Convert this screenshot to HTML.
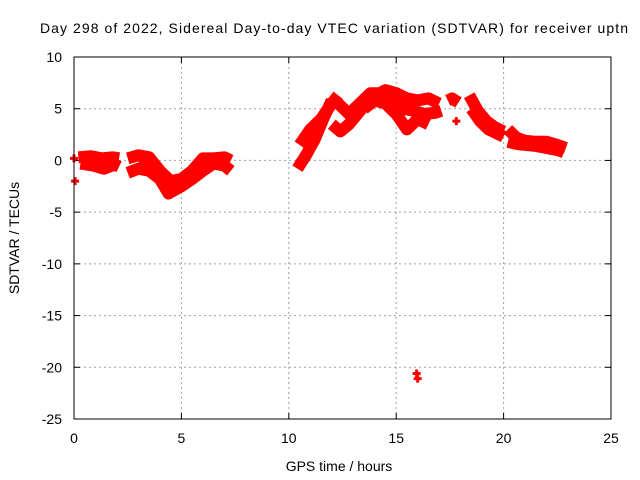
<!DOCTYPE html>
<html><head><meta charset="utf-8"><style>
body{margin:0;background:#fff}
svg{display:block;font-family:"Liberation Sans",sans-serif}
</style></head><body>
<svg id="c" width="640" height="480" viewBox="0 0 640 480">
<rect width="640" height="480" fill="#fff"/>
<text x="40" y="33" font-size="14" textLength="588">Day 298 of 2022, Sidereal Day-to-day VTEC variation (SDTVAR) for receiver uptn</text>
<text x="339" y="471" font-size="14" text-anchor="middle">GPS time / hours</text>
<text x="19" y="238" font-size="14" text-anchor="middle" transform="rotate(-90 19 238)">SDTVAR / TECUs</text>
<g id="grid"></g>
<g id="ticks"></g>
<g id="marks"></g>
<rect x="74" y="57" width="537" height="362" fill="none" stroke="#000"/>
</svg>
<script>
const xTicks=[0,5,10,15,20,25];
const yTicks=[10,5,0,-5,-10,-15,-20,-25];
const trackHours=[
 [0.2,0.8,1.3,1.8,2.1],
 [0.3,0.9,1.4,1.9,2.1],
 [2.5,3.0,3.5,4.0,4.5,5.0,5.5,6.0,6.5,7.0,7.3],
 [2.5,3.0,3.5,4.0,4.4,5.0,5.5,6.0,6.5,7.0,7.3],
 [3.0,3.5,4.0,4.5,5.0,5.5,6.0,6.5,7.0],
 [10.4,10.8,11.2,11.6,12.0],
 [10.5,11.0,11.5,12.0,12.3],
 [12.0,12.4,12.8,13.2,13.6,14.0,14.5,15.0,15.5,16.0,16.5,17.0],
 [12.3,12.8,13.3,13.8,14.3,14.8,15.3,15.8,16.3,16.8,17.1],
 [13.5,14.0,14.5,15.0,15.5,16.0,16.5],
 [17.4,17.6,17.9],
 [18.4,18.8,19.2,19.6,20.0],
 [18.5,18.9,19.3,19.7,20.0],
 [20.2,20.6,21.0,21.5,22.0,22.5,22.9],
 [20.2,20.6,21.0,21.5,22.0,22.5,22.8]
];
const trackValues=[
 [0.3,0.4,0.2,0.3,0.2],
 [-0.3,-0.5,-0.8,-0.4,-0.6],
 [0.2,0.5,0.3,-1.0,-2.0,-1.8,-1.0,0.2,0.2,0.3,0.0],
 [-1.2,-0.8,-1.0,-1.8,-3.2,-2.5,-1.8,-1.0,-0.3,-0.5,-1.0],
 [-0.2,-0.5,-1.5,-2.5,-2.2,-1.5,-0.5,-0.2,0],
 [-0.8,0.5,2.0,4.0,5.8],
 [1.5,3.0,4.0,5.5,6.3],
 [3.5,2.8,3.5,4.5,5.5,6.2,6.8,6.5,6.0,5.8,6.0,5.5],
 [5.5,4.5,5.5,6.5,6.5,5.5,5.0,4.8,4.5,4.6,4.8],
 [5.0,5.8,5.5,4.5,3.0,4.0,3.5],
 [5.8,6.0,5.6],
 [6.3,4.8,3.8,3.2,2.8],
 [5.0,3.8,3.0,2.6,2.3],
 [3.0,2.2,1.9,1.8,1.8,1.5,1.2],
 [1.8,1.6,1.5,1.4,1.2,1.0,0.8]
];
const pointHours=[0.0,0.05,17.8,15.95,16.0];
const pointValues=[0.2,-2.0,3.8,-20.6,-21.1];
const NS="http://www.w3.org/2000/svg";
const X0=74,X1=611,Y0=419,Y1=57;
const sx=h=>X0+(h-0)/(25-0)*(X1-X0);
const sy=v=>Y0-(v+25)/(35)*(Y0-Y1);
function mk(t,a,p){const e=document.createElementNS(NS,t);for(const k in a)e.setAttribute(k,a[k]);p.appendChild(e);return e;}
const grid=document.getElementById('grid'),ticks=document.getElementById('ticks'),marks=document.getElementById('marks');
xTicks.forEach(t=>{const x=sx(t);
 if(t>0&&t<25){const g=mk('line',{x1:x,x2:x,y1:Y1,y2:Y0,stroke:'#a0a0a0','stroke-dasharray':'2,3'},grid);
 
 }
 mk('line',{x1:x,x2:x,y1:Y0,y2:Y0-6,stroke:'#000'},ticks);
 mk('line',{x1:x,x2:x,y1:Y1,y2:Y1+6,stroke:'#000'},ticks);
 const l=mk('text',{x:x,y:443,'font-size':14,'text-anchor':'middle'},ticks);l.textContent=t;
 
 
});
yTicks.forEach(t=>{const y=sy(t);
 if(t<10&&t>-25){const g=mk('line',{x1:X0,x2:X1,y1:y,y2:y,stroke:'#a0a0a0','stroke-dasharray':'2,3'},grid);
 
 }
 mk('line',{x1:X0,x2:X0+6,y1:y,y2:y,stroke:'#000'},ticks);
 mk('line',{x1:X1,x2:X1-6,y1:y,y2:y,stroke:'#000'},ticks);
 const l=mk('text',{x:62,y:y+5,'font-size':14,'text-anchor':'end'},ticks);l.textContent=t;
 
 
});
trackHours.forEach((hs,i)=>{
 const pts=hs.map((h,j)=>sx(h)+','+sy(trackValues[i][j])).join(' ');
 const p=mk('polyline',{points:pts,fill:'none',stroke:'#ff0000','stroke-width':12,'stroke-linejoin':'round','stroke-linecap':'butt'},marks);
 
 
});
pointHours.forEach((h,i)=>{const x=sx(h),y=sy(pointValues[i]);
 const p=mk('path',{d:`M${x-4},${y}H${x+4}M${x},${y-4}V${y+4}`,stroke:'#ff0000','stroke-width':3},marks);
 
 
});
</script>
</body></html>
